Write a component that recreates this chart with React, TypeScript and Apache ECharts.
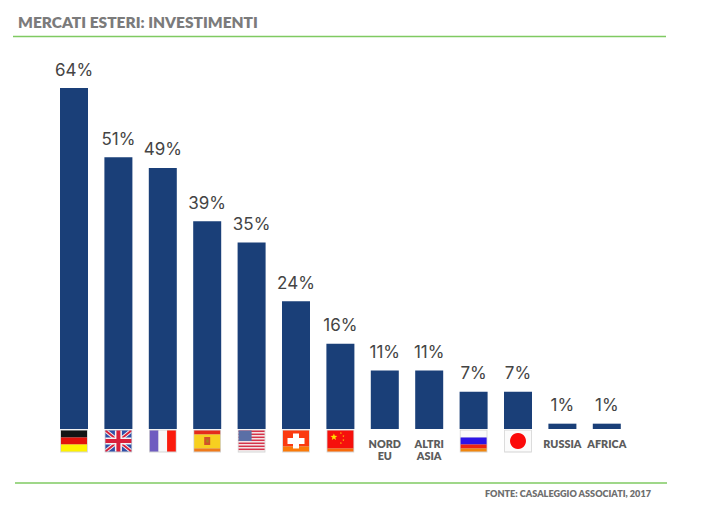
import React, { useEffect, useRef } from "react";
import * as echarts from "echarts";

const categories = ["Germania", "Regno Unito", "Francia", "Spagna", "USA", "Svizzera", "Cina", "NORD\nEU", "ALTRI\nASIA", "Federazione", "Giappone", "RUSSIA", "AFRICA"];
const flagCodes = ["de", "uk", "fr", "es", "us", "ch", "cn", "", "", "ru", "jp", "", ""];
const values = [64, 51, 49, 39, 35, 24, 16, 11, 11, 7, 7, 1, 1];
const titleText = "MERCATI ESTERI: INVESTIMENTI";
const sourceText = "FONTE: CASALEGGIO ASSOCIATI, 2017";

const W = 26;
const H = 21;
const rect = (x: number, y: number, width: number, height: number, fill: string) => ({
  type: "rect", shape: { x, y, width, height }, style: { fill },
});
const poly = (points: number[][], fill: string) => ({ type: "polygon", shape: { points }, style: { fill } });
const star = (cx: number, cy: number, r: number, fill: string) => {
  const points: number[][] = [];
  for (let i = 0; i < 10; i++) {
    const a = -Math.PI / 2 + (i * Math.PI) / 5;
    const rr = i % 2 ? r * 0.42 : r;
    points.push([cx + rr * Math.cos(a), cy + rr * Math.sin(a)]);
  }
  return poly(points, fill);
};

function flagShapes(code: string): any[] {
  switch (code) {
    case "de":
      return [rect(0, 0, W, 7, "#141414"), rect(0, 7, W, 7, "#e3120b"), rect(0, 14, W, 7, "#fff200")];
    case "uk":
      return [
        rect(0, 0, W, H, "#2f4fa8"),
        poly([[0, 0], [3, 0], [W, H - 2.5], [W, H], [W - 3, H], [0, 2.5]], "#f4f4f4"),
        poly([[W, 0], [W, 2.5], [3, H], [0, H], [0, H - 2.5], [W - 3, 0]], "#f4f4f4"),
        poly([[0, 0], [1.5, 0], [W, H - 1.2], [W, H], [W - 1.5, H], [0, 1.2]], "#d8203a"),
        poly([[W, 0], [W, 1.2], [1.5, H], [0, H], [0, H - 1.2], [W - 1.5, 0]], "#d8203a"),
        rect(0, 7, W, 7, "#f4f4f4"),
        rect(9.5, 0, 7, H, "#f4f4f4"),
        rect(0, 8.5, W, 4, "#d8203a"),
        rect(11, 0, 4, H, "#d8203a"),
      ];
    case "fr":
      return [rect(0, 0, 8.7, H, "#6f5cc0"), rect(8.7, 0, 8.6, H, "#f8f8f8"), rect(17.3, 0, 8.7, H, "#fb1a0c")];
    case "es":
      return [
        rect(0, 0, W, 4, "#e52b1c"),
        rect(0, 4, W, 14, "#f7d020"),
        rect(0, 18, W, 3, "#f07a1a"),
        rect(10, 6.5, 6, 8, "#d2502a"),
        rect(12, 9, 2.5, 3, "#a8841a"),
      ];
    case "us": {
      const stripes = [];
      for (let i = 0; i < 7; i++) {
        stripes.push(rect(0, i * 3, W, 1.6, "#d5324a"));
      }
      return [rect(0, 0, W, H, "#f6f6f6"), ...stripes, rect(0, 0, 13, 10.5, "#5a6fa6")];
    }
    case "ch":
      return [rect(0, 0, W, 16, "#fb3a10"), rect(0, 16, W, 5, "#fb7a08"), rect(10, 3, 6, 15, "#ffffff"), rect(4.5, 7.5, 17, 6, "#ffffff")];
    case "cn":
      return [
        rect(0, 0, W, 18, "#f6100c"),
        rect(0, 18, W, 3, "#f86a0a"),
        star(6.5, 6.5, 3.6, "#ffe000"),
        star(13.5, 2.5, 1.1, "#ffe000"),
        star(16, 5.5, 1.1, "#ffe000"),
        star(16, 9.5, 1.1, "#ffe000"),
        star(13.5, 12.5, 1.1, "#ffe000"),
      ];
    case "ru":
      return [rect(0, 0, W, 7, "#fafafa"), rect(0, 7, W, 7, "#2c14e6"), rect(0, 14, W, 4, "#ee2412"), rect(0, 18, W, 3, "#f0860e")];
    case "jp":
      return [
        rect(0, 0, W, H, "#fbfbfb"),
        { type: "circle", shape: { cx: 13, cy: 10.5, r: 8 }, style: { fill: "#fb0a0a" } },
      ];
    default:
      return [];
  }
}

export default function App() {
  const ref = useRef<HTMLDivElement>(null);

  useEffect(() => {
    const chart = echarts.init(ref.current!, undefined, { renderer: "svg" });
    chart.setOption({
      animation: false,
      backgroundColor: "#ffffff",
      grid: { left: 51.8, top: 88, width: 577.2, height: 341, containLabel: false },
      title: {
        text: titleText,
        left: 13,
        top: 9,
        textStyle: { fontFamily: "Lato", fontWeight: 800, fontSize: 15.5, color: "#7b7b7b", letterSpacing: 0.55 },
      },
      xAxis: {
        type: "category",
        data: categories,
        axisLine: { show: false },
        axisTick: { show: false },
        axisLabel: {
          interval: 0,
          margin: 8,
          color: "#5c5c5c",
          fontFamily: "Lato",
          fontWeight: 800,
          fontSize: 10.8,
          lineHeight: 12,
          formatter: (v: string) => (flagCodes[categories.indexOf(v)] ? "" : v),
        },
      },
      yAxis: { type: "value", min: 0, max: 64, show: false, splitLine: { show: false } },
      series: [
        {
          type: "bar",
          data: values,
          barWidth: 28,
          itemStyle: { color: "#1a3f78" },
          label: {
            show: true,
            position: "top",
            distance: 10,
            formatter: "{c}%",
            color: "#444444",
            fontFamily: "Inter",
            fontSize: 17,
          },
        },
        {
          type: "custom",
          clip: false,
          silent: true,
          data: values.map((_, i) => [i, 0]),
          encode: { x: 0, y: 1 },
          renderItem: (params: any, api: any) => {
            const p = api.coord([api.value(0), 0]);
            const code = flagCodes[params.dataIndex];
            if (!code) return null;
            return {
              type: "group",
              x: p[0] - W / 2,
              y: p[1] + 1.5,
              children: [
                { type: "rect", shape: { x: -0.8, y: -0.8, width: W + 1.6, height: H + 1.8 }, style: { fill: "#d4d4d4" } },
                ...flagShapes(code),
              ],
            };
          },
        },
      ],
      graphic: [
        { type: "line", shape: { x1: 13, y1: 36.5, x2: 666, y2: 36.5 }, style: { stroke: "#7fca62", lineWidth: 1.5 } },
        { type: "line", shape: { x1: 15, y1: 483, x2: 667, y2: 483 }, style: { stroke: "#7fca62", lineWidth: 1.5 } },
        {
          type: "text",
          x: 485,
          y: 489,
          style: { text: sourceText, fontFamily: "Lato", fontWeight: 800, fontSize: 9.1, fill: "#6e6e6e" },
        },
      ],
    });
    return () => chart.dispose();
  }, []);

  return <div ref={ref} style={{ position: "absolute", left: 0, top: 0, width: 702, height: 522 }} />;
}
